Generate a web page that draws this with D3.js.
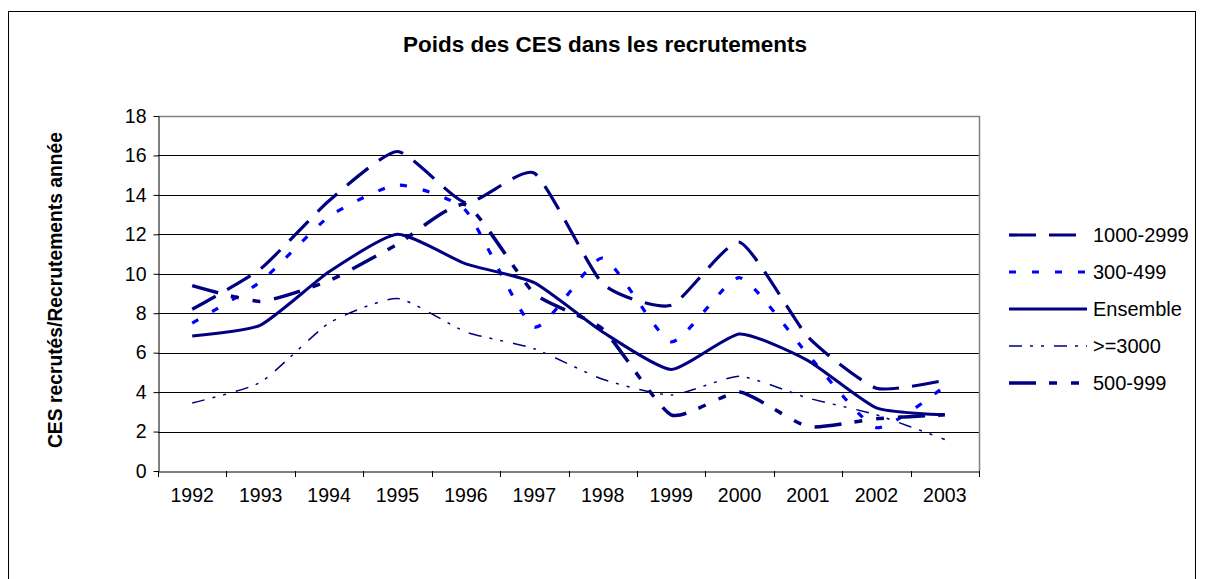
<!DOCTYPE html>
<html>
<head>
<meta charset="utf-8">
<script src="https://cdn.jsdelivr.net/npm/d3@7"></script>
<style>
  html, body { margin: 0; padding: 0; background: #fff; }
  svg { display: block; font-family: "Liberation Sans", Arial, sans-serif; }
</style>
</head>
<body>
<svg id="chart" width="1205" height="579"></svg>
<script>
// Years on the category axis
const years = ["1992","1993","1994","1995","1996","1997","1998","1999","2000","2001","2002","2003"];

// Share of CES hires in total hires, by establishment size
const s1000_2999 = [8.2, 10.25, 13.7, 16.2, 13.6, 15.1, 9.5, 8.4, 11.6, 6.8, 4.2, 4.6];
const s300_499   = [7.5, 9.6, 12.9, 14.5, 13.2, 7.3, 10.8, 6.55, 9.8, 5.9, 2.2, 4.3];
const ensemble   = [6.85, 7.4, 10.1, 12.0, 10.5, 9.55, 7.05, 5.15, 6.95, 5.6, 3.2, 2.85];
const s3000plus  = [3.45, 4.5, 7.5, 8.75, 7.05, 6.2, 4.65, 3.85, 4.8, 3.7, 2.85, 1.6];
const s500_999   = [9.4, 8.6, 9.65, 11.5, 13.5, 9.0, 7.2, 2.85, 4.0, 2.25, 2.65, 2.85];

const yTicks = [0, 2, 4, 6, 8, 10, 12, 14, 16, 18];

const series = [
  { name: "1000-2999", values: s1000_2999, color: "#000080", width: 3.2, dash: "27,13" },
  { name: "300-499",   values: s300_499,   color: "#0000FF", width: 3.2, dash: "7,16" },
  { name: "Ensemble",  values: ensemble,   color: "#000080", width: 3,   dash: null },
  { name: ">=3000",    values: s3000plus,  color: "#000080", width: 1.5, dash: "13,8,3,8,3,10" },
  { name: "500-999",   values: s500_999,   color: "#000080", width: 3.5, dash: "27,13,8,14,8,14" }
];

const svg = d3.select("#chart");

// Outer chart frame
svg.append("rect")
  .attr("x", 8.5).attr("y", 11.5)
  .attr("width", 1187).attr("height", 600)
  .attr("fill", "none").attr("stroke", "#000").attr("stroke-width", 1);

const plot = { left: 158, right: 979, top: 116, bottom: 471 };

const x = d3.scaleBand().domain(years).range([plot.left, plot.right]).padding(0);
const y = d3.scaleLinear().domain([0, 18]).range([plot.bottom, plot.top]);

// Horizontal gridlines
svg.append("g").selectAll("line")
  .data(yTicks.filter(d => d > 0 && d < 18))
  .join("line")
  .attr("x1", plot.left).attr("x2", plot.right)
  .attr("y1", d => Math.round(y(d)) + 0.5).attr("y2", d => Math.round(y(d)) + 0.5)
  .attr("stroke", "#000").attr("stroke-width", 1);

// Plot area border (top and right in grey)
svg.append("path")
  .attr("d", `M${plot.left},${plot.top + 0.5}H${plot.right + 0.5}V${plot.bottom}`)
  .attr("fill", "none").attr("stroke", "#808080").attr("stroke-width", 1.5);

// Y axis
const yAxis = svg.append("g")
  .attr("transform", `translate(${plot.left + 0.5},0)`)
  .call(d3.axisLeft(y).tickValues(yTicks).tickSize(5).tickPadding(7).tickSizeOuter(0));
yAxis.select(".domain").attr("stroke", "#000");
yAxis.selectAll(".tick line").attr("stroke", "#000");
yAxis.selectAll(".tick text")
  .attr("font-size", 19.5).attr("fill", "#000")
  .style("font-family", '"Liberation Sans", Arial, sans-serif');

// X axis: labels centred in each band, ticks on band edges
const xAxis = svg.append("g")
  .attr("transform", `translate(0,${plot.bottom + 0.5})`)
  .call(d3.axisBottom(x).tickSize(0).tickPadding(17).tickSizeOuter(0));
xAxis.select(".domain").attr("stroke", "#000");
xAxis.selectAll(".tick text")
  .attr("font-size", 19.5).attr("fill", "#000")
  .style("font-family", '"Liberation Sans", Arial, sans-serif');

const edges = years.map(d => x(d)).concat([x(years[years.length - 1]) + x.bandwidth()]);
svg.append("g").selectAll("line")
  .data(edges)
  .join("line")
  .attr("x1", d => Math.round(d) + 0.5).attr("x2", d => Math.round(d) + 0.5)
  .attr("y1", plot.bottom).attr("y2", plot.bottom + 6)
  .attr("stroke", "#000");

// Series lines (lightly smoothed)
const line = d3.line()
  .x((d, i) => x(years[i]) + x.bandwidth() / 2)
  .y(d => y(d))
  .curve(d3.curveCardinal.tension(0.45));

svg.append("g").selectAll("path")
  .data(series)
  .join("path")
  .attr("d", d => line(d.values))
  .attr("fill", "none")
  .attr("stroke", d => d.color)
  .attr("stroke-width", d => d.width)
  .attr("stroke-dasharray", d => d.dash)
  .attr("stroke-linejoin", "round");

// Legend
const legend = svg.append("g").attr("transform", "translate(1009,235)");
const rows = legend.selectAll("g").data(series).join("g")
  .attr("transform", (d, i) => `translate(0,${i * 37})`);
rows.append("line")
  .attr("x1", 0).attr("x2", 78).attr("y1", 0).attr("y2", 0)
  .attr("stroke", d => d.color)
  .attr("stroke-width", d => d.width)
  .attr("stroke-dasharray", d => d.dash);
rows.append("text")
  .attr("x", 84).attr("y", 0).attr("dy", "0.35em")
  .attr("font-size", 20).attr("fill", "#000")
  .text(d => d.name);

// Title
svg.append("text")
  .attr("x", 605).attr("y", 52)
  .attr("text-anchor", "middle")
  .attr("font-size", 22.5).attr("font-weight", "bold")
  .text("Poids des CES dans les recrutements");

// Y axis title
svg.append("text")
  .attr("transform", `translate(62,290) rotate(-90)`)
  .attr("text-anchor", "middle")
  .attr("font-size", 19.3).attr("font-weight", "bold")
  .text("CES recrutés/Recrutements année");
</script>
</body>
</html>
